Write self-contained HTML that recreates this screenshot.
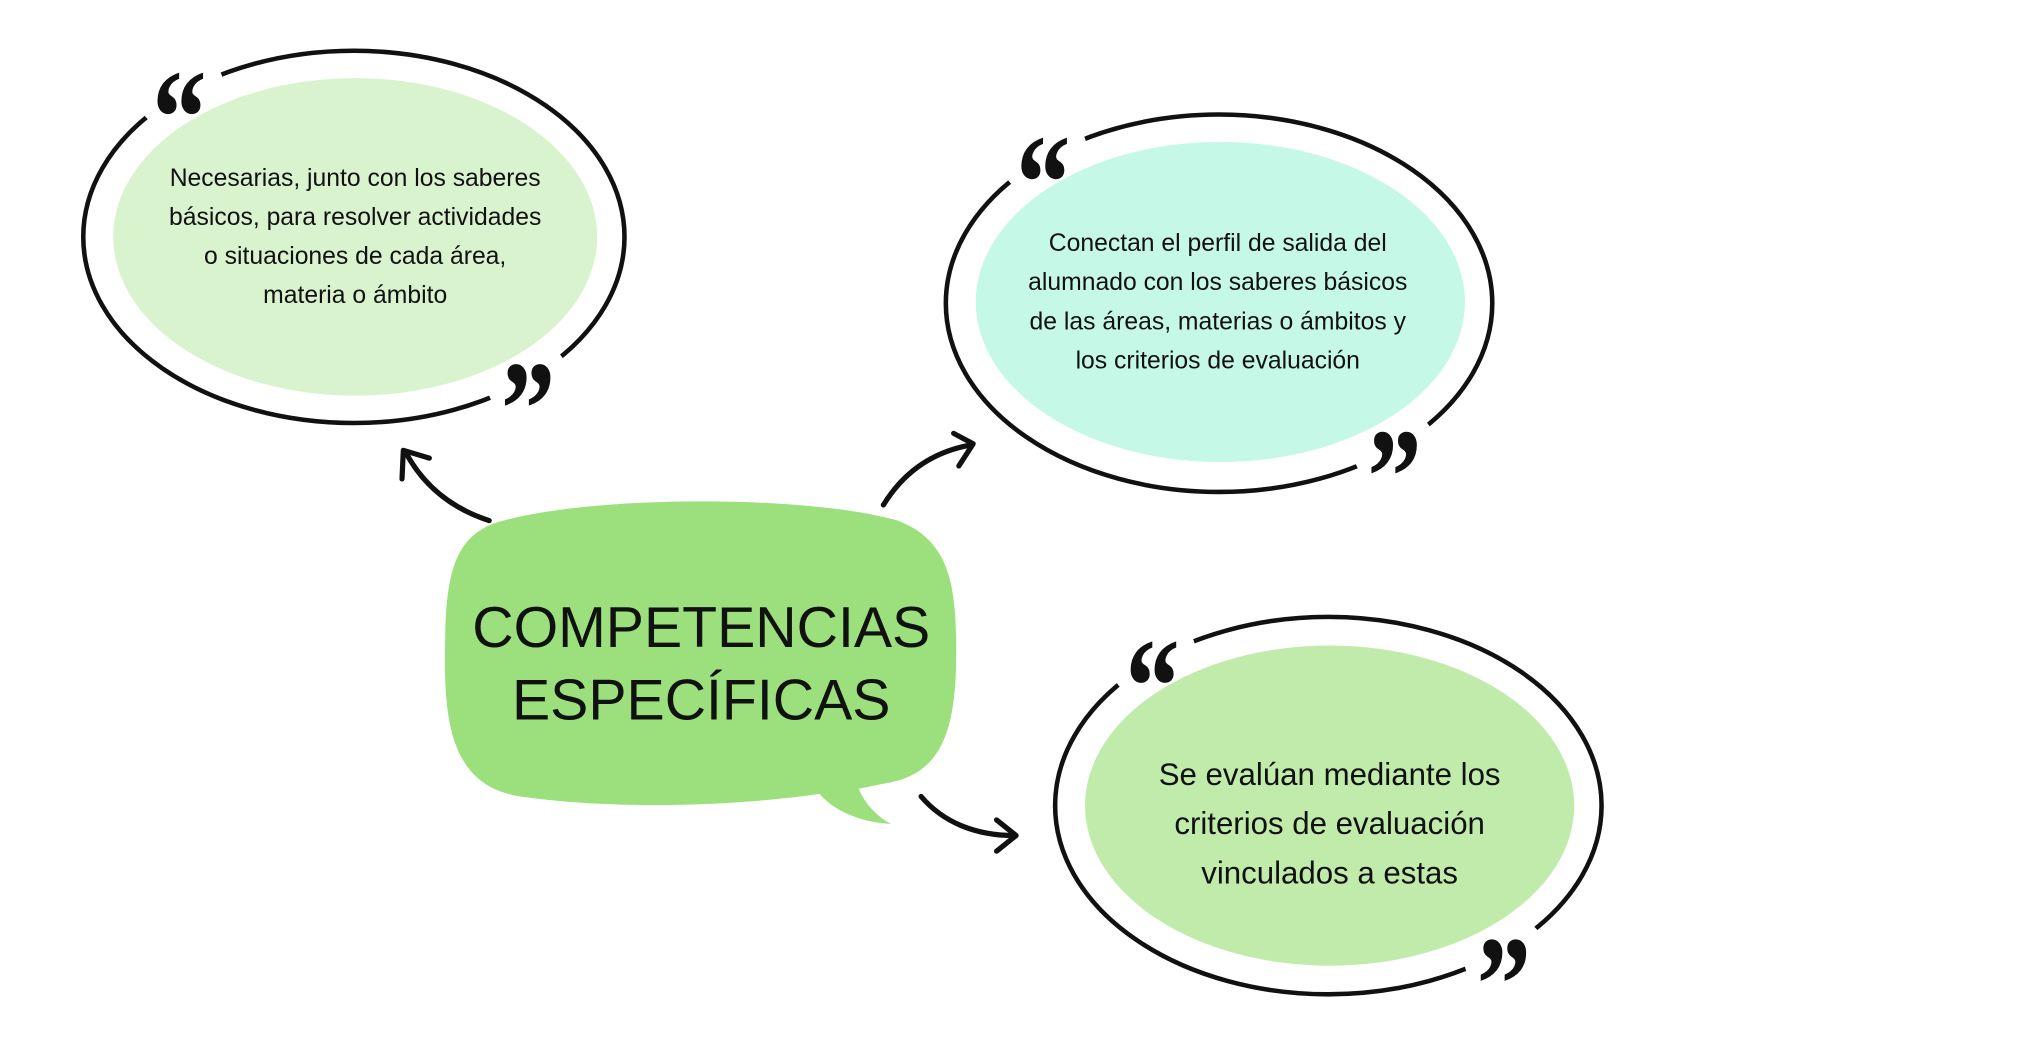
<!DOCTYPE html>
<html><head><meta charset="utf-8"><style>
html,body{margin:0;padding:0;background:#fff;}
svg{display:block;}
</style></head><body>
<svg width="2040" height="1062" viewBox="0 0 1568 816" preserveAspectRatio="none" xmlns="http://www.w3.org/2000/svg">
<rect width="1568" height="816" fill="#fff"/>
<ellipse cx="272" cy="182" rx="208" ry="143" fill="none" stroke="#111" stroke-width="3.5"/>
<circle cx="138" cy="68" r="34" fill="#fff"/>
<circle cx="406" cy="293" r="32" fill="#fff"/>
<ellipse cx="273" cy="182" rx="186" ry="122" fill="#d9f3cf"/>
<ellipse cx="937" cy="233" rx="210" ry="145" fill="none" stroke="#111" stroke-width="3.5"/>
<circle cx="802" cy="118" r="34" fill="#fff"/>
<circle cx="1072" cy="345" r="32" fill="#fff"/>
<ellipse cx="938" cy="232" rx="188" ry="123" fill="#c5f8e6"/>
<ellipse cx="1021" cy="619" rx="210" ry="145" fill="none" stroke="#111" stroke-width="3.5"/>
<circle cx="886" cy="505" r="34" fill="#fff"/>
<circle cx="1157" cy="735" r="32" fill="#fff"/>
<ellipse cx="1022" cy="619" rx="188" ry="123" fill="#c0ebab"/>
<g font-family="Liberation Serif, serif" font-weight="bold" font-size="88" fill="#111">
<text transform="translate(117,126) scale(0.95,1.2)">“</text>
<text transform="translate(385,350) scale(0.95,1.2)">”</text>
<text transform="translate(781,176) scale(0.95,1.2)">“</text>
<text transform="translate(1051,402) scale(0.95,1.2)">”</text>
<text transform="translate(865,563) scale(0.95,1.2)">“</text>
<text transform="translate(1135,792) scale(0.95,1.2)">”</text>
</g>
<path d="M380,402 C450,380 620,380 690,400 C730,415 735,450 735,500 C735,560 725,595 680,602 L660,606 C665,618 675,628 685,633 C660,632 640,622 630,610 C560,620 470,622 400,612 C355,605 342,570 342,510 C342,450 345,415 380,402 Z" fill="#9be07c"/>
<g font-family="Liberation Sans, sans-serif" font-size="44" fill="#111" text-anchor="middle">
<text x="539" y="497">COMPETENCIAS</text>
<text x="539" y="553">ESPECÍFICAS</text>
</g>
<g fill="none" stroke="#111" stroke-width="4" stroke-linecap="round" stroke-linejoin="round">
<path d="M376,400 C345,390 325,372 312,348"/>
<path d="M309,368 L310,346 L330,352"/>
<path d="M679,388 C695,362 718,347 746,342"/>
<path d="M733,333 L748,341 L737,358"/>
<path d="M708,612 C725,632 750,642 780,642"/>
<path d="M766,630 L781,642 L766,654"/>
</g>
<g font-family="Liberation Sans, sans-serif" fill="#111" text-anchor="middle">
<g font-size="19">
<text x="273" y="143">Necesarias, junto con los saberes</text>
<text x="273" y="173">básicos, para resolver actividades</text>
<text x="273" y="203">o situaciones de cada área,</text>
<text x="273" y="233">materia o ámbito</text>
<text x="936" y="193">Conectan el perfil de salida del</text>
<text x="936" y="223">alumnado con los saberes básicos</text>
<text x="936" y="253">de las áreas, materias o ámbitos y</text>
<text x="936" y="283">los criterios de evaluación</text>
</g>
<g font-size="24">
<text x="1022" y="603">Se evalúan mediante los</text>
<text x="1022" y="641">criterios de evaluación</text>
<text x="1022" y="679">vinculados a estas</text>
</g>
</g>
</svg>
</body></html>
